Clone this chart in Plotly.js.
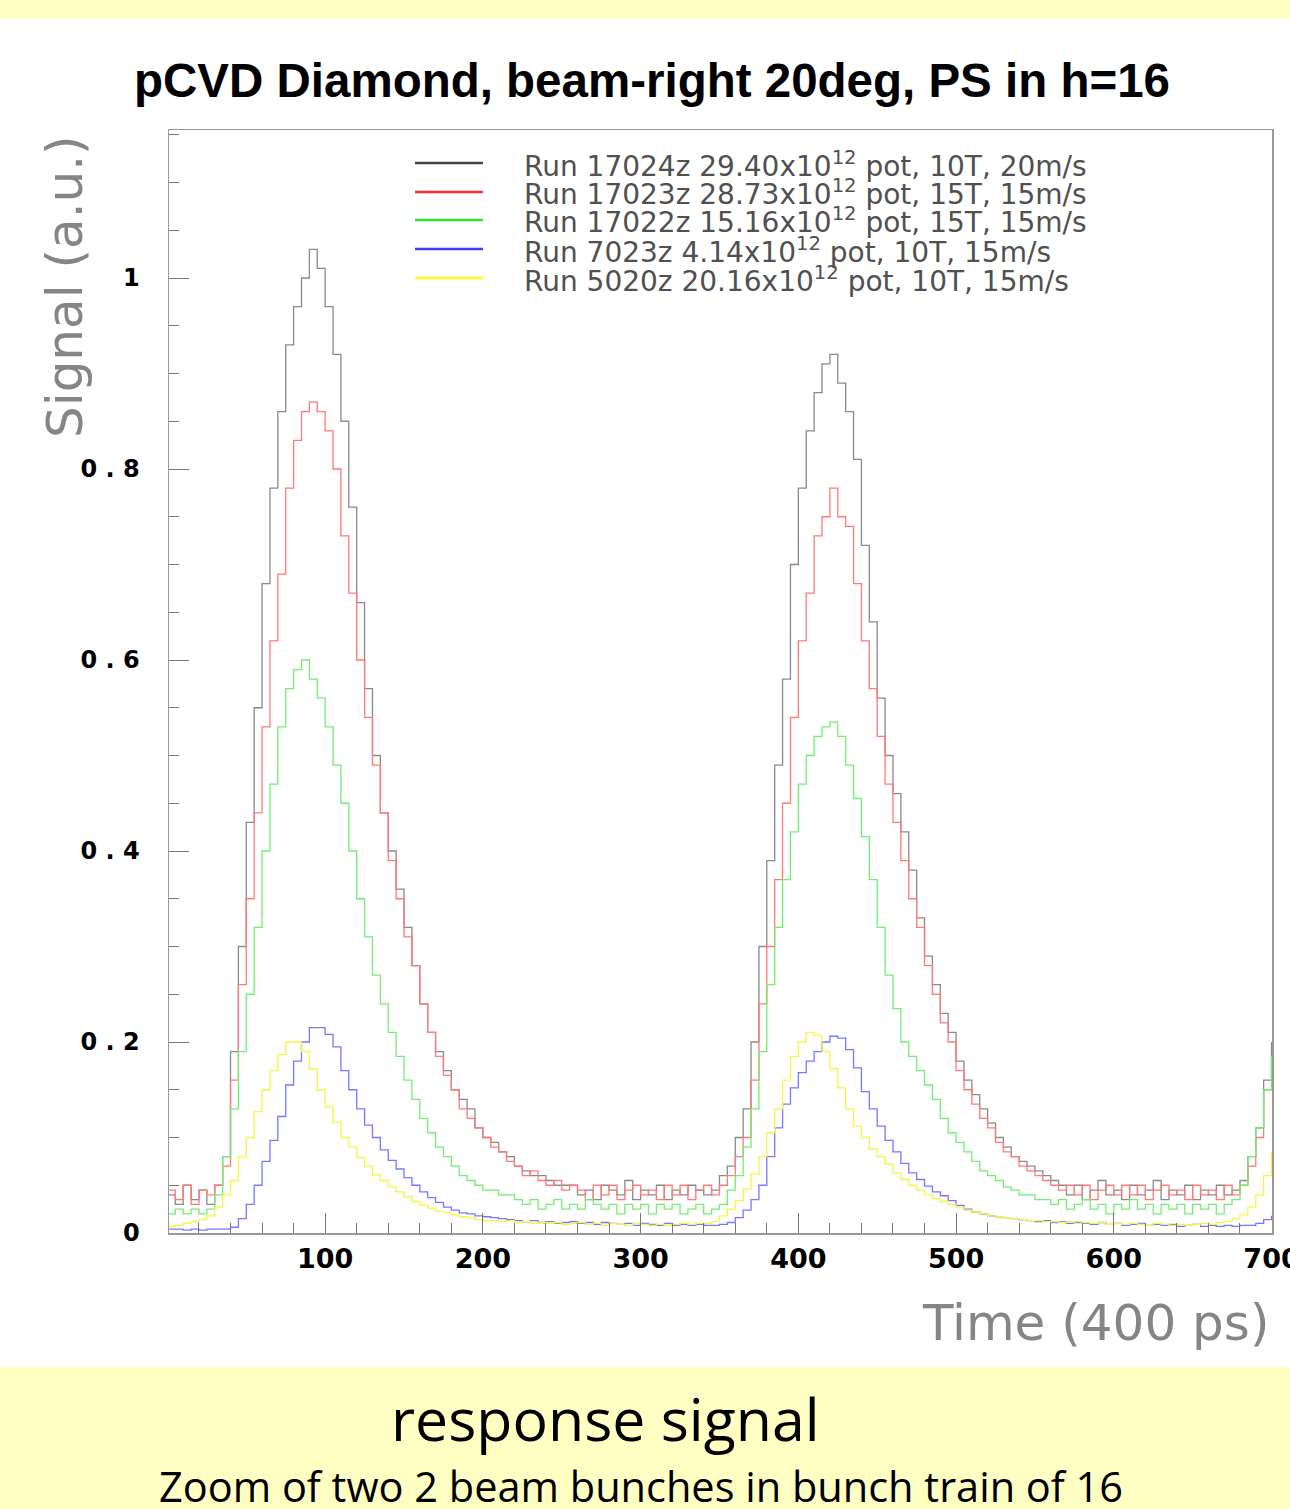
<!DOCTYPE html>
<html>
<head>
<meta charset="utf-8">
<script src="https://cdn.plot.ly/plotly-3.0.1.min.js"></script>
<style>
  html, body { margin: 0; padding: 0; background: #ffffff; }
  #chart { width: 1290px; height: 1509px; }
</style>
</head>
<body>
<div id="chart"></div>
<script>
// ---- Data ----
const time = [
  0, 5, 10, 15, 20, 25, 30, 35, 40, 45, 50, 55, 60, 65, 70, 75, 80, 85, 90, 95,
  100, 105, 110, 115, 120, 125, 130, 135, 140, 145, 150, 155, 160, 165, 170, 175, 180, 185, 190, 195,
  200, 205, 210, 215, 220, 225, 230, 235, 240, 245, 250, 255, 260, 265, 270, 275, 280, 285, 290, 295,
  300, 305, 310, 315, 320, 325, 330, 335, 340, 345, 350, 355, 360, 365, 370, 375, 380, 385, 390, 395,
  400, 405, 410, 415, 420, 425, 430, 435, 440, 445, 450, 455, 460, 465, 470, 475, 480, 485, 490, 495,
  500, 505, 510, 515, 520, 525, 530, 535, 540, 545, 550, 555, 560, 565, 570, 575, 580, 585, 590, 595,
  600, 605, 610, 615, 620, 625, 630, 635, 640, 645, 650, 655, 660, 665, 670, 675, 680, 685, 690, 695,
  700
];

const run17024z = [
  0.040, 0.030, 0.050, 0.035, 0.045, 0.030, 0.050, 0.080, 0.190, 0.300,
  0.430, 0.550, 0.680, 0.780, 0.860, 0.930, 0.970, 1.000, 1.030, 1.010,
  0.970, 0.920, 0.850, 0.760, 0.660, 0.570, 0.500, 0.440, 0.400, 0.360,
  0.320, 0.280, 0.240, 0.210, 0.190, 0.170, 0.150, 0.140, 0.130, 0.110,
  0.100, 0.095, 0.085, 0.080, 0.070, 0.065, 0.060, 0.060, 0.055, 0.050,
  0.050, 0.050, 0.040, 0.045, 0.035, 0.050, 0.045, 0.040, 0.055, 0.035,
  0.045, 0.040, 0.050, 0.035, 0.045, 0.040, 0.050, 0.045, 0.040, 0.045,
  0.060, 0.070, 0.100, 0.130, 0.200, 0.300, 0.390, 0.490, 0.580, 0.700,
  0.780, 0.840, 0.880, 0.910, 0.920, 0.890, 0.860, 0.810, 0.720, 0.640,
  0.560, 0.500, 0.460, 0.420, 0.380, 0.330, 0.290, 0.260, 0.230, 0.210,
  0.180, 0.160, 0.145, 0.130, 0.115, 0.100, 0.090, 0.080, 0.075, 0.070,
  0.065, 0.060, 0.055, 0.050, 0.040, 0.050, 0.035, 0.045, 0.055, 0.040,
  0.045, 0.035, 0.050, 0.040, 0.045, 0.055, 0.035, 0.045, 0.040, 0.050,
  0.035, 0.045, 0.040, 0.050, 0.040, 0.045, 0.055, 0.080, 0.110, 0.160,
  0.200
];

const run17023z = [
  0.045, 0.035, 0.050, 0.030, 0.045, 0.040, 0.050, 0.070, 0.160, 0.260,
  0.350, 0.440, 0.530, 0.620, 0.690, 0.780, 0.830, 0.860, 0.870, 0.860,
  0.840, 0.800, 0.730, 0.670, 0.600, 0.540, 0.490, 0.440, 0.390, 0.350,
  0.310, 0.280, 0.240, 0.210, 0.185, 0.165, 0.150, 0.130, 0.120, 0.110,
  0.100, 0.090, 0.085, 0.075, 0.070, 0.060, 0.065, 0.055, 0.050, 0.055,
  0.045, 0.050, 0.045, 0.035, 0.050, 0.040, 0.050, 0.035, 0.045, 0.050,
  0.040, 0.045, 0.035, 0.050, 0.040, 0.050, 0.035, 0.045, 0.050, 0.040,
  0.050, 0.060, 0.080, 0.100, 0.160, 0.240, 0.300, 0.370, 0.450, 0.540,
  0.620, 0.670, 0.730, 0.750, 0.780, 0.750, 0.740, 0.680, 0.620, 0.570,
  0.520, 0.470, 0.430, 0.390, 0.350, 0.320, 0.280, 0.250, 0.220, 0.200,
  0.170, 0.150, 0.135, 0.120, 0.110, 0.095, 0.085, 0.080, 0.070, 0.065,
  0.060, 0.055, 0.050, 0.045, 0.050, 0.040, 0.050, 0.035, 0.045, 0.050,
  0.040, 0.050, 0.040, 0.050, 0.035, 0.045, 0.050, 0.040, 0.045, 0.035,
  0.050, 0.040, 0.045, 0.035, 0.050, 0.040, 0.050, 0.070, 0.100, 0.150,
  0.180
];

const run17022z = [
  0.020, 0.025, 0.020, 0.025, 0.020, 0.025, 0.040, 0.080, 0.130, 0.190,
  0.250, 0.320, 0.400, 0.470, 0.530, 0.570, 0.590, 0.600, 0.580, 0.560,
  0.530, 0.490, 0.450, 0.400, 0.350, 0.310, 0.270, 0.240, 0.210, 0.185,
  0.160, 0.140, 0.120, 0.105, 0.090, 0.080, 0.070, 0.060, 0.055, 0.050,
  0.045, 0.045, 0.040, 0.040, 0.035, 0.030, 0.035, 0.025, 0.030, 0.035,
  0.025, 0.030, 0.025, 0.035, 0.030, 0.025, 0.030, 0.020, 0.030, 0.025,
  0.030, 0.020, 0.030, 0.025, 0.030, 0.020, 0.025, 0.030, 0.020, 0.025,
  0.030, 0.045, 0.060, 0.090, 0.130, 0.190, 0.260, 0.320, 0.370, 0.420,
  0.470, 0.500, 0.520, 0.530, 0.535, 0.520, 0.490, 0.455, 0.415, 0.370,
  0.320, 0.270, 0.235, 0.200, 0.185, 0.170, 0.155, 0.140, 0.120, 0.105,
  0.095, 0.085, 0.075, 0.065, 0.060, 0.055, 0.048, 0.045, 0.040, 0.040,
  0.035, 0.035, 0.030, 0.035, 0.025, 0.030, 0.035, 0.025, 0.030, 0.020,
  0.030, 0.025, 0.035, 0.025, 0.030, 0.020, 0.030, 0.025, 0.030, 0.020,
  0.030, 0.025, 0.030, 0.020, 0.030, 0.035, 0.050, 0.080, 0.110, 0.150,
  0.185
];

const run7023z = [
  0.004, 0.004, 0.003, 0.004, 0.003, 0.004, 0.004, 0.004, 0.006, 0.015,
  0.030, 0.050, 0.075, 0.097, 0.122, 0.155, 0.180, 0.200, 0.215, 0.215,
  0.208, 0.195, 0.170, 0.150, 0.130, 0.113, 0.100, 0.087, 0.076, 0.067,
  0.058, 0.050, 0.043, 0.037, 0.032, 0.027, 0.024, 0.021, 0.020, 0.018,
  0.017, 0.016, 0.015, 0.014, 0.013, 0.012, 0.013, 0.011, 0.012, 0.010,
  0.011, 0.012, 0.010, 0.011, 0.009, 0.011, 0.010, 0.009, 0.010, 0.008,
  0.010, 0.009, 0.008, 0.010, 0.008, 0.009, 0.008, 0.009, 0.008, 0.008,
  0.009, 0.011, 0.016, 0.024, 0.035, 0.050, 0.080, 0.110, 0.135, 0.152,
  0.168, 0.180, 0.190, 0.200, 0.206, 0.204, 0.192, 0.173, 0.148, 0.130,
  0.112, 0.097, 0.085, 0.073, 0.063, 0.056, 0.049, 0.043, 0.039, 0.034,
  0.029, 0.025, 0.022, 0.020, 0.018, 0.017, 0.016, 0.015, 0.014, 0.013,
  0.012, 0.013, 0.011, 0.012, 0.010, 0.011, 0.010, 0.009, 0.011, 0.009,
  0.010, 0.008, 0.009, 0.010, 0.008, 0.009, 0.008, 0.009, 0.007, 0.008,
  0.009, 0.007, 0.008, 0.007, 0.008, 0.007, 0.008, 0.008, 0.010, 0.014,
  0.018
];

const run5020z = [
  0.007, 0.008, 0.010, 0.012, 0.014, 0.018, 0.027, 0.040, 0.055, 0.080,
  0.100, 0.127, 0.150, 0.170, 0.187, 0.200, 0.200, 0.190, 0.172, 0.150,
  0.132, 0.116, 0.100, 0.090, 0.079, 0.070, 0.061, 0.055, 0.048, 0.043,
  0.038, 0.033, 0.029, 0.026, 0.023, 0.021, 0.019, 0.017, 0.016, 0.014,
  0.013, 0.013, 0.012, 0.013, 0.011, 0.012, 0.010, 0.011, 0.010, 0.011,
  0.009, 0.010, 0.011, 0.009, 0.010, 0.008, 0.010, 0.009, 0.008, 0.010,
  0.009, 0.008, 0.009, 0.008, 0.009, 0.010, 0.009, 0.010, 0.010, 0.012,
  0.018, 0.025, 0.034, 0.046, 0.062, 0.080, 0.105, 0.130, 0.160, 0.185,
  0.200, 0.210, 0.207, 0.190, 0.172, 0.152, 0.130, 0.112, 0.100, 0.088,
  0.080, 0.072, 0.063, 0.056, 0.050, 0.045, 0.040, 0.036, 0.033, 0.030,
  0.027, 0.024, 0.022, 0.020, 0.018, 0.017, 0.016, 0.015, 0.014, 0.013,
  0.013, 0.012, 0.012, 0.011, 0.012, 0.010, 0.011, 0.010, 0.011, 0.009,
  0.010, 0.009, 0.010, 0.009, 0.008, 0.010, 0.009, 0.008, 0.009, 0.008,
  0.009, 0.010, 0.009, 0.011, 0.012, 0.015, 0.019, 0.027, 0.040, 0.060,
  0.085
];

const seriesNames = [
  'Run 17024z 29.40x10<sup>12</sup> pot, 10T, 20m/s',
  'Run 17023z 28.73x10<sup>12</sup> pot, 15T, 15m/s',
  'Run 17022z 15.16x10<sup>12</sup> pot, 15T, 15m/s',
  'Run 7023z 4.14x10<sup>12</sup> pot, 10T, 15m/s',
  'Run 5020z 20.16x10<sup>12</sup> pot, 10T, 15m/s'
];
const seriesValues = [run17024z, run17023z, run17022z, run7023z, run5020z];

const yTickVals = [0, 0.2, 0.4, 0.6, 0.8, 1];
const yTickText = ['0', '0 . 2', '0 . 4', '0 . 6', '0 . 8', '1'];
const xTickVals = [100, 200, 300, 400, 500, 600, 700];
const xTickText = ['100', '200', '300', '400', '500', '600', '700'];

// ---- Styles ----
const curveColors = ['#8a8a8a', '#ff7a7a', '#72ee72', '#7878ff', '#f5f545'];
const legendColors = ['#444444', '#ff2a2a', '#2fe02f', '#3a3aff', '#ffff1a'];

const traces = seriesValues.map((vals, i) => ({
  type: 'scatter',
  mode: 'lines',
  x: time,
  y: vals,
  name: seriesNames[i],
  line: { shape: 'hv', color: curveColors[i], width: 1.3 },
  showlegend: false,
  hoverinfo: 'skip'
}));

// plot-area pixel geometry helpers (paper coordinates)
const L = 169, R = 1272, T = 130, B = 1233;
const W = R - L, H = B - T;
const px = v => (v - L) / W;
const py = v => (B - v) / H;

const legendY = [163, 192, 220, 249, 278];
const shapes = [
  { type: 'rect', xref: 'paper', yref: 'paper', x0: px(-10), x1: px(1300), y0: py(19), y1: py(-10),
    fillcolor: '#ffffc4', line: { width: 0 }, layer: 'below' },
  { type: 'rect', xref: 'paper', yref: 'paper', x0: px(-10), x1: px(1300), y0: py(1520), y1: py(1367),
    fillcolor: '#ffffc4', line: { width: 0 }, layer: 'below' }
];
legendY.forEach((yy, i) => {
  shapes.push({ type: 'line', xref: 'paper', yref: 'paper', x0: px(415), x1: px(483), y0: py(yy), y1: py(yy),
    line: { color: legendColors[i], width: 2.5 } });
});

const annotations = [];
legendY.forEach((yy, i) => {
  annotations.push({ xref: 'paper', yref: 'paper', x: px(522), y: py(yy + 1), xanchor: 'left', yanchor: 'middle',
    text: seriesNames[i], showarrow: false,
    font: { family: 'DejaVu Sans', size: 28, color: '#505050' } });
});
annotations.push({ xref: 'paper', yref: 'paper', x: px(65), y: py(287), xanchor: 'center', yanchor: 'middle',
  text: 'Signal (a.u.)', textangle: -90, showarrow: false,
  font: { family: 'DejaVu Sans', size: 50, color: '#858585' } });
annotations.push({ xref: 'paper', yref: 'paper', x: px(1271), y: py(1323), xanchor: 'right', yanchor: 'middle',
  text: 'Time (400 ps)', showarrow: false,
  font: { family: 'DejaVu Sans', size: 50, color: '#858585' } });
annotations.push({ xref: 'paper', yref: 'paper', x: px(605), y: py(1418), xanchor: 'center', yanchor: 'middle',
  text: 'response signal', showarrow: false,
  font: { family: 'Open Sans', size: 59, color: '#000000' } });
annotations.push({ xref: 'paper', yref: 'paper', x: px(641), y: py(1486), xanchor: 'center', yanchor: 'middle',
  text: 'Zoom of two 2 beam bunches in bunch train of 16', showarrow: false,
  font: { family: 'Open Sans', size: 41.5, color: '#000000' } });

const layout = {
  width: 1290,
  height: 1509,
  margin: { l: L, r: 1290 - R, t: T, b: 1509 - B, pad: 0 },
  paper_bgcolor: '#ffffff',
  plot_bgcolor: '#ffffff',
  title: {
    text: '<b>pCVD Diamond, beam-right 20deg, PS in h=16</b>',
    x: 652 / 1290, xref: 'container', xanchor: 'center',
    y: 1 - 80 / 1509, yref: 'container', yanchor: 'middle',
    font: { family: 'Liberation Sans, Arial, sans-serif', size: 47.5, color: '#000000' }
  },
  xaxis: {
    range: [1, 700.3],
    tickmode: 'array', tickvals: xTickVals, ticktext: xTickText,
    ticks: 'inside', ticklen: 20, tickwidth: 1, tickcolor: '#777777',
    minor: { tickmode: 'linear', tick0: 0, dtick: 20, ticks: 'inside', ticklen: 10, tickcolor: '#777777', tickwidth: 1 },
    showline: true, linecolor: '#999999', linewidth: 1.5, mirror: true,
    showgrid: false, zeroline: false,
    tickfont: { family: 'DejaVu Sans', size: 27, color: '#000000', weight: 'bold' },
    ticklabelstandoff: 1,
    ticklabeloverflow: 'allow'
  },
  yaxis: {
    range: [0, 1.155],
    tickmode: 'array', tickvals: yTickVals, ticktext: yTickText,
    ticks: 'inside', ticklen: 20, tickwidth: 1, tickcolor: '#777777',
    minor: { tickmode: 'linear', tick0: 0, dtick: 0.05, ticks: 'inside', ticklen: 10, tickcolor: '#777777', tickwidth: 1 },
    showline: true, linecolor: '#999999', linewidth: 1.5, mirror: true,
    showgrid: false, zeroline: false,
    tickfont: { family: 'DejaVu Sans', size: 24, color: '#000000', weight: 'bold' },
    ticklabelstandoff: 23
  },
  shapes: shapes,
  annotations: annotations,
  showlegend: false
};

Plotly.newPlot('chart', traces, layout, { staticPlot: true, displayModeBar: false });
</script>
</body>
</html>
